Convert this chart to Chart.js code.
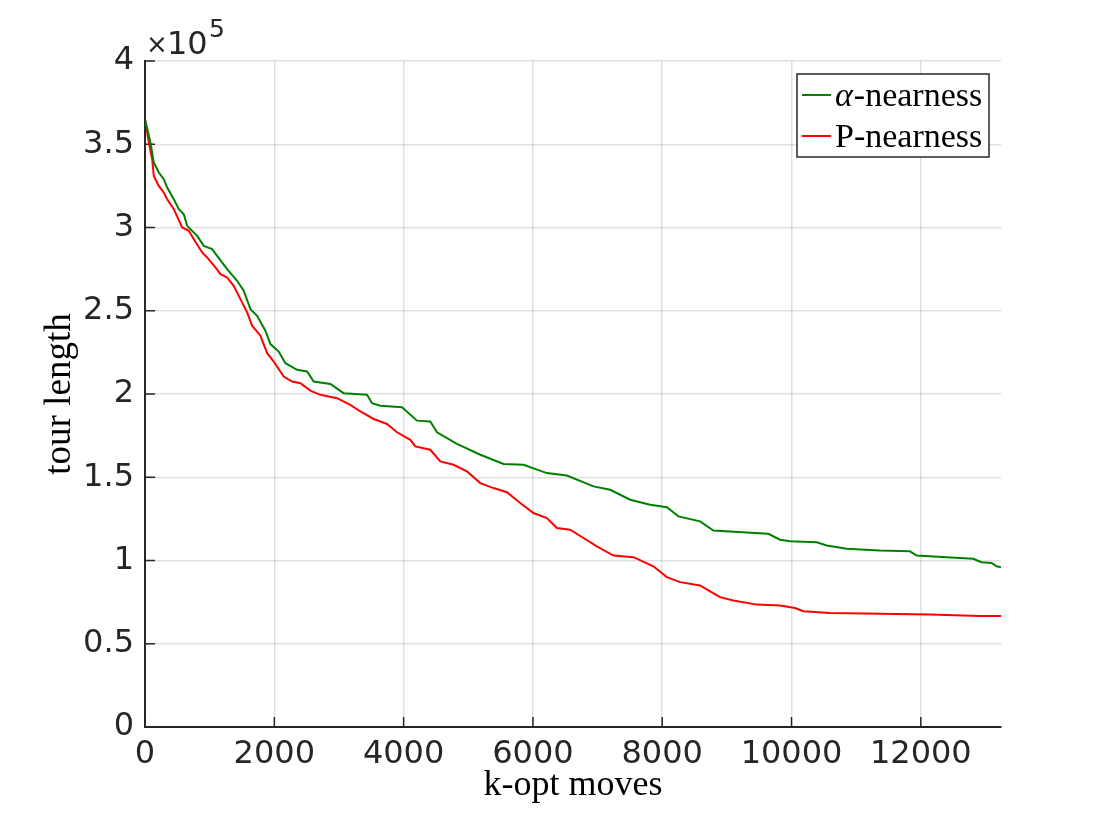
<!DOCTYPE html>
<html>
<head>
<meta charset="utf-8">
<script src="https://cdn.jsdelivr.net/npm/chart.js@4.4.1/dist/chart.umd.min.js"></script>
<style>
  body { margin: 0; background: #fff; }
  canvas { display: block; }
</style>
</head>
<body>
<canvas id="myChart" width="1107" height="816"></canvas>
<script>
// alpha-nearness run (k-opt moves, tour length)
let alphaMoves = [0, 85, 136, 214, 291, 343, 446, 523, 600, 652, 807, 909, 1038, 1116, 1270, 1425, 1527, 1631, 1734, 1862, 1940, 2068, 2172, 2352, 2507, 2609, 2867, 3073, 3434, 3512, 3640, 3975, 4207, 4413, 4516, 4825, 5186, 5546, 5855, 6216, 6525, 6937, 7195, 7504, 7813, 8071, 8251, 8586, 8792, 9308, 9642, 9822, 9977, 10390, 10544, 10853, 11368, 11832, 11935, 12399, 12810, 12940, 13095, 13172, 13240];
let alphaLength = [365000, 351000, 339000, 333000, 329000, 324000, 317000, 311000, 308000, 301000, 295000, 289000, 287000, 283000, 275000, 268000, 262000, 251000, 247000, 238000, 230000, 225500, 218500, 214500, 213500, 207500, 206000, 200500, 199500, 194500, 193000, 192000, 184000, 183500, 177000, 170000, 163500, 158000, 157500, 152500, 151000, 144500, 142500, 136500, 133500, 132000, 126500, 123500, 118000, 116800, 116000, 112500, 111500, 111000, 109000, 107000, 106000, 105500, 103000, 102000, 101000, 99000, 98500, 96500, 96000];

// P-nearness run
let pMoves = [0, 59, 111, 136, 214, 291, 343, 446, 575, 677, 755, 884, 961, 1090, 1167, 1270, 1372, 1476, 1580, 1657, 1785, 1889, 1991, 2145, 2275, 2404, 2558, 2713, 2970, 3176, 3331, 3537, 3743, 3898, 4104, 4181, 4413, 4567, 4773, 4980, 5186, 5391, 5598, 5804, 6009, 6216, 6371, 6576, 6782, 6989, 7246, 7555, 7864, 8071, 8277, 8586, 8740, 8895, 9101, 9462, 9822, 10054, 10183, 10595, 11368, 12141, 12914, 13240];
let pLength = [365000, 351000, 341000, 331000, 325000, 321000, 317000, 311000, 300000, 298000, 293000, 285000, 282000, 276000, 272000, 270000, 265000, 257000, 249000, 241000, 235000, 224500, 219500, 210500, 207500, 206500, 202000, 199500, 197500, 193500, 189500, 185000, 182000, 177000, 172500, 168500, 166500, 159500, 157500, 153500, 146500, 143500, 141000, 134500, 128500, 125500, 119500, 118500, 113500, 108500, 103000, 102000, 96500, 90000, 87000, 85000, 81500, 78000, 76000, 73500, 73000, 71500, 69500, 68500, 68000, 67500, 66700, 66700];

let xTicks = [0, 2000, 4000, 6000, 8000, 10000, 12000];
let yTicks = [0, 0.5, 1, 1.5, 2, 2.5, 3, 3.5, 4];
let seriesLabels = ['α-nearness', 'P-nearness'];
let seriesColors = ['#008000', '#ff0000'];

function toPoints(xs, ys) {
    let pts = [];
    for (let i = 0; i < xs.length; i++) {
        pts.push({ x: xs[i], y: ys[i] });
    }
    return pts;
}

const axisColor = '#262626';
const sansFont = "'DejaVu Sans', sans-serif";
const serifFont = "'Liberation Serif', serif";

// inward tick marks like the matlab axes
const innerTicks = {
    id: 'innerTicks',
    beforeDatasetsDraw(chart) {
        const ctx = chart.ctx;
        const xs = chart.scales.x;
        const ys = chart.scales.y;
        const area = chart.chartArea;
        ctx.save();
        ctx.strokeStyle = axisColor;
        ctx.lineWidth = 1.5;
        ctx.beginPath();
        xTicks.forEach(v => {
            let px = xs.getPixelForValue(v);
            ctx.moveTo(px, area.bottom);
            ctx.lineTo(px, area.bottom - 10);
        });
        yTicks.forEach(v => {
            let py = ys.getPixelForValue(v * 1e5);
            ctx.moveTo(area.left, py);
            ctx.lineTo(area.left + 10, py);
        });
        ctx.stroke();
        ctx.restore();
    }
};

// exponent label and boxed legend
const extras = {
    id: 'extras',
    afterDraw(chart) {
        const ctx = chart.ctx;
        const area = chart.chartArea;
        ctx.save();
        ctx.fillStyle = axisColor;
        ctx.textBaseline = 'alphabetic';
        ctx.font = `26px ${sansFont}`;
        ctx.fillText('×', area.left + 1, 53);
        ctx.font = `32px ${sansFont}`;
        ctx.fillText('10', area.left + 22, 54);
        ctx.font = `25px ${sansFont}`;
        ctx.fillText('5', area.left + 64, 37);

        // legend
        let bx = 797, by = 74, bw = 192, bh = 83;
        ctx.fillStyle = '#fff';
        ctx.fillRect(bx, by, bw, bh);
        ctx.strokeStyle = axisColor;
        ctx.lineWidth = 1.5;
        ctx.strokeRect(bx, by, bw, bh);
        let rows = [95, 136];
        chart.data.datasets.forEach((ds, i) => {
            let y = rows[i];
            ctx.strokeStyle = ds.borderColor;
            ctx.lineWidth = 2;
            ctx.beginPath();
            ctx.moveTo(802, y);
            ctx.lineTo(831, y);
            ctx.stroke();
            ctx.fillStyle = '#000';
            ctx.textBaseline = 'middle';
            let x = 835;
            let txt = ds.label;
            if (txt.startsWith('α')) {
                ctx.font = `italic 34px ${serifFont}`;
                ctx.fillText('α', x, y + 2);
                x += ctx.measureText('α').width + 1;
                txt = txt.slice(1);
            }
            ctx.font = `34px ${serifFont}`;
            ctx.fillText(txt, x, y + 2);
        });
        ctx.restore();
    }
};

var ctx = document.getElementById('myChart');
var chart = new Chart(ctx, {
    type: 'line',
    data: {
        datasets: [
            {
                label: seriesLabels[0],
                data: toPoints(alphaMoves, alphaLength),
                borderColor: seriesColors[0],
                borderWidth: 2,
                pointRadius: 0,
                fill: false,
                tension: 0,
            },
            {
                label: seriesLabels[1],
                data: toPoints(pMoves, pLength),
                borderColor: seriesColors[1],
                borderWidth: 2,
                pointRadius: 0,
                fill: false,
                tension: 0,
            },
        ]
    },
    options: {
        responsive: false,
        animation: false,
        layout: { padding: { top: 61, right: 106, left: 0, bottom: 0 } },
        scales: {
            x: {
                type: 'linear',
                min: 0,
                max: 13240,
                afterBuildTicks: (scale) => { scale.ticks = xTicks.map(v => ({ value: v })); },
                afterFit: (scale) => { scale.height = 89; },
                ticks: {
                    color: axisColor,
                    font: { family: sansFont, size: 32 },
                    padding: 8,
                    maxRotation: 0,
                    callback: (v) => String(v),
                },
                grid: { color: 'rgba(0,0,0,0.12)', lineWidth: 1.5, drawTicks: false },
                border: { color: axisColor, width: 2 },
                title: {
                    display: true,
                    text: 'k-opt moves',
                    color: '#000',
                    font: { family: serifFont, size: 36 },
                    padding: { top: 0, bottom: 9 },
                }
            },
            y: {
                min: 0,
                max: 400000,
                afterBuildTicks: (scale) => { scale.ticks = yTicks.map(v => ({ value: v * 1e5 })); },
                afterFit: (scale) => { scale.width = 145; },
                ticks: {
                    color: axisColor,
                    font: { family: sansFont, size: 32 },
                    padding: 11,
                    callback: (v) => String(v / 1e5),
                },
                grid: { color: 'rgba(0,0,0,0.12)', lineWidth: 1.5, drawTicks: false },
                border: { color: axisColor, width: 2 },
                title: {
                    display: true,
                    text: 'tour length',
                    color: '#000',
                    font: { family: serifFont, size: 37 },
                    padding: { top: 38, bottom: 0 },
                }
            }
        },
        plugins: {
            legend: { display: false },
            tooltip: { enabled: false },
        },
    },
    plugins: [innerTicks, extras]
});
</script>
</body>
</html>
